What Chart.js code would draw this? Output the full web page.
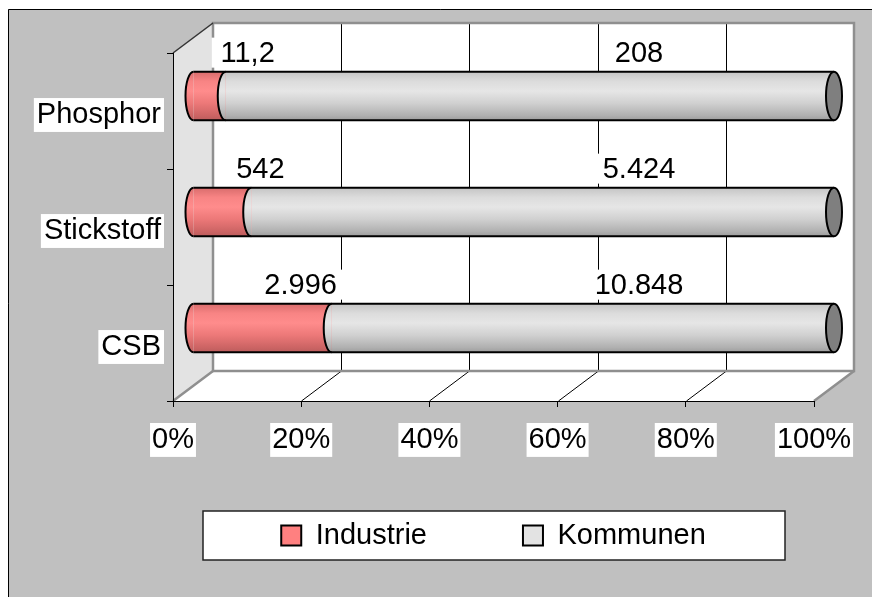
<!DOCTYPE html>
<html>
<head>
<meta charset="utf-8">
<title>Industrie / Kommunen</title>
<script src="https://cdn.jsdelivr.net/npm/chart.js@4/dist/chart.umd.min.js"></script>
<style>
  html, body { margin: 0; padding: 0; background: #fff; }
</style>
</head>
<body>
<canvas id="barChart" width="872" height="597"></canvas>
<script>
const categories = ["Phosphor", "Stickstoff", "CSB"];
const seriesNames = ["Industrie", "Kommunen"];
const industrie = [11.2, 542, 2996];
const kommunen = [208, 5424, 10848];
const xTicks = [0, 20, 40, 60, 80, 100];

// german number format: 10848 -> "10.848", 11.2 -> "11,2"
function fmt(v) {
  const [i, d] = String(v).split(".");
  return i.replace(/\B(?=(\d{3})+(?!\d))/g, ".") + (d ? "," + d : "");
}

const totals = industrie.map((v, i) => v + kommunen[i]);
const series = [industrie, kommunen];
const pct = series.map(s => s.map((v, i) => v / totals[i] * 100));

const DEPTH = { x: 40, y: -30 }; // 3d depth of the plot box
const BAR_PCT = 0.42;

const redStops = [[0, "#d86c6c"], [0.2, "#f88484"], [0.4, "#ff8c8c"], [0.65, "#ec7878"], [0.9, "#cc6464"], [1, "#bb5c5c"]];
const grayStops = [[0, "#c4c4c4"], [0.2, "#dcdcdc"], [0.4, "#e6e6e6"], [0.65, "#d0d0d0"], [0.9, "#b0b0b0"], [1, "#9c9c9c"]];

function cylGradient(context, stops) {
  const chart = context.chart;
  const ys = chart.scales.y;
  if (!chart.chartArea || !ys || context.dataIndex === undefined) return stops[2][1];
  const yc = ys.getPixelForValue(context.dataIndex);
  const half = ys.height / categories.length * BAR_PCT / 2;
  const g = chart.ctx.createLinearGradient(0, yc - half, 0, yc + half);
  stops.forEach(([o, c]) => g.addColorStop(o, c));
  return g;
}

const scene3d = {
  id: "scene3d",
  afterLayout(chart) {
    // x axis box is squeezed so the legend sits low; let its labels draw below it
    const xs = chart.scales.x;
    xs.bottom = xs.top + 70;
  },
  beforeDraw(chart) {
    const ctx = chart.ctx;
    const { top, bottom } = chart.chartArea;
    const xs = chart.scales.x;
    const x0 = xs.getPixelForValue(0), x1 = xs.getPixelForValue(100);
    const dx = DEPTH.x, dy = DEPTH.y;
    ctx.save();
    ctx.fillStyle = "#fff";
    ctx.fillRect(0, 0, chart.width, chart.height);
    ctx.fillStyle = "#c0c0c0";
    ctx.fillRect(8, 9, chart.width, chart.height);
    ctx.strokeStyle = "#000";
    ctx.lineWidth = 1;
    ctx.beginPath();
    ctx.moveTo(8.5, chart.height);
    ctx.lineTo(8.5, 9.5);
    ctx.lineTo(chart.width, 9.5);
    ctx.stroke();

    // left wall
    ctx.fillStyle = "#e3e3e3";
    ctx.beginPath();
    ctx.moveTo(x0, top); ctx.lineTo(x0 + dx, top + dy);
    ctx.lineTo(x0 + dx, bottom + dy); ctx.lineTo(x0, bottom);
    ctx.closePath(); ctx.fill();
    // back wall + floor
    ctx.fillStyle = "#fff";
    ctx.fillRect(x0 + dx, top + dy, x1 - x0, bottom - top);
    ctx.beginPath();
    ctx.moveTo(x0, bottom); ctx.lineTo(x1, bottom);
    ctx.lineTo(x1 + dx, bottom + dy); ctx.lineTo(x0 + dx, bottom + dy);
    ctx.closePath(); ctx.fill();

    // grid lines
    ctx.strokeStyle = "#000";
    ctx.lineWidth = 1;
    xTicks.slice(1, -1).forEach(v => {
      const px = Math.round(xs.getPixelForValue(v)) + 0.5;
      ctx.beginPath();
      ctx.moveTo(px + dx, top + dy); ctx.lineTo(px + dx, bottom + dy);
      ctx.moveTo(px, bottom); ctx.lineTo(px + dx, bottom + dy);
      ctx.stroke();
    });

    // edges
    ctx.strokeStyle = "#8f8f8f";
    ctx.lineWidth = 2.5;
    ctx.strokeRect(x0 + dx, top + dy, x1 - x0, bottom - top);
    ctx.beginPath();
    ctx.moveTo(x0, bottom); ctx.lineTo(x0 + dx, bottom + dy);
    ctx.moveTo(x1, bottom); ctx.lineTo(x1 + dx, bottom + dy);
    ctx.stroke();
    ctx.strokeStyle = "#333";
    ctx.lineWidth = 1.5;
    ctx.beginPath();
    ctx.moveTo(x0, top); ctx.lineTo(x0 + dx, top + dy);
    ctx.stroke();

    // legend frame
    const lg = chart.legend;
    if (lg) {
      const bx = lg.left + 30, by = lg.top + 86;
      const bw = lg.right - 29 - bx, bh = lg.bottom - by;
      ctx.fillStyle = "#fff";
      ctx.fillRect(bx, by, bw, bh);
      ctx.strokeStyle = "#222";
      ctx.lineWidth = 1.5;
      ctx.strokeRect(bx, by, bw, bh);
    }
    ctx.restore();
  },
  beforeDatasetsDraw(chart) {
    chart.ctx.save();
    chart.ctx.translate(DEPTH.x / 2, DEPTH.y / 2);
  },
  afterDatasetsDraw(chart) {
    const ctx = chart.ctx;
    const rx = 8;
    const metas = [0, 1].map(d => chart.getDatasetMeta(d));
    categories.forEach((c, i) => {
      const parts = metas.map(m => {
        const el = m.data[i];
        return { el, p: el.getProps(["x", "y", "base", "height"], true) };
      });
      ctx.lineWidth = 2;
      ctx.strokeStyle = "#000";
      parts.forEach(({ el, p }) => {
        const h2 = p.height / 2;
        ctx.beginPath();
        ctx.ellipse(p.base, p.y, rx, h2, 0, Math.PI / 2, Math.PI * 3 / 2);
        ctx.closePath();
        ctx.fillStyle = el.options.backgroundColor;
        ctx.fill();
        ctx.beginPath();
        ctx.ellipse(p.base, p.y, rx, h2, 0, Math.PI / 2, Math.PI * 3 / 2);
        ctx.stroke();
      });
      const first = parts[0].p, last = parts[parts.length - 1].p;
      const h2 = first.height / 2;
      ctx.beginPath();
      ctx.moveTo(first.base, first.y - h2); ctx.lineTo(last.x, last.y - h2);
      ctx.moveTo(first.base, first.y + h2); ctx.lineTo(last.x, last.y + h2);
      ctx.stroke();
      ctx.beginPath();
      ctx.ellipse(last.x, last.y, rx, h2, 0, 0, Math.PI * 2);
      ctx.fillStyle = "#7f7f7f";
      ctx.fill();
      ctx.stroke();

      // value labels above the cylinders
      ctx.font = "29px 'Liberation Sans', Arial, sans-serif";
      ctx.textAlign = "center";
      ctx.textBaseline = "middle";
      parts.forEach(({ p }, d) => {
        const txt = fmt(series[d][i]);
        const cx = d === 0 ? (p.base + p.x) / 2 + 38 : p.x - 195;
        const cy = p.y - p.height / 2 - 19;
        const w = ctx.measureText(txt).width + 18;
        ctx.fillStyle = "#fff";
        ctx.fillRect(cx - w / 2, cy - 15, w, 30);
        ctx.fillStyle = "#000";
        ctx.fillText(txt, cx, cy + 1);
      });
    });
    ctx.restore();
  }
};

const legendColors = ["#ff8080", "#e3e3e3"];
const tickFont = { size: 29, lineHeight: 1.1 };

const config = {
  type: "bar",
  data: {
    labels: categories,
    datasets: [
      {
        label: seriesNames[0],
        data: pct[0],
        backgroundColor: c => cylGradient(c, redStops),
        borderWidth: 0,
        barPercentage: BAR_PCT,
        categoryPercentage: 1,
        clip: false
      },
      {
        label: seriesNames[1],
        data: pct[1],
        backgroundColor: c => cylGradient(c, grayStops),
        borderWidth: 0,
        barPercentage: BAR_PCT,
        categoryPercentage: 1,
        clip: false
      }
    ]
  },
  options: {
    indexAxis: "y",
    responsive: false,
    animation: false,
    layout: { padding: { left: 10, right: 58, top: 53, bottom: 37 } },
    scales: {
      x: {
        type: "linear",
        min: 0,
        max: 100,
        stacked: true,
        afterBuildTicks: s => { s.ticks = xTicks.map(v => ({ value: v })); },
        afterFit: s => { s.height = 24; },
        ticks: {
          callback: v => v + "%",
          padding: 17,
          font: tickFont,
          color: "#000",
          maxRotation: 0,
          autoSkip: false,
          showLabelBackdrop: true,
          backdropColor: "#fff",
          backdropPadding: { x: 2, y: 1 }
        },
        grid: { drawOnChartArea: false, tickLength: 6, color: "#000" },
        border: { color: "#000", width: 1 }
      },
      y: {
        stacked: true,
        afterFit: s => { s.width = 163; },
        ticks: {
          padding: 6,
          labelOffset: 4,
          font: tickFont,
          color: "#000",
          showLabelBackdrop: true,
          backdropColor: "#fff",
          backdropPadding: { x: 3, y: 1 }
        },
        grid: { drawOnChartArea: false, tickLength: 6, color: "#000", offset: true },
        border: { color: "#000", width: 1 }
      }
    },
    plugins: {
      tooltip: { enabled: false },
      legend: {
        position: "bottom",
        fullSize: false,
        labels: {
          boxWidth: 20,
          boxHeight: 20,
          padding: 96,
          color: "#000",
          font: { size: 29 },
          generateLabels: () => seriesNames.map((n, i) => ({
            text: n,
            fillStyle: legendColors[i],
            strokeStyle: "#000",
            lineWidth: 2,
            hidden: false,
            datasetIndex: i
          }))
        }
      }
    }
  },
  plugins: [scene3d]
};

Chart.defaults.font.family = "'Liberation Sans', Arial, sans-serif";
Chart.defaults.color = "#000";

const ctx = document.getElementById("barChart").getContext("2d");
const myBarChart = new Chart(ctx, config);
</script>
</body>
</html>
